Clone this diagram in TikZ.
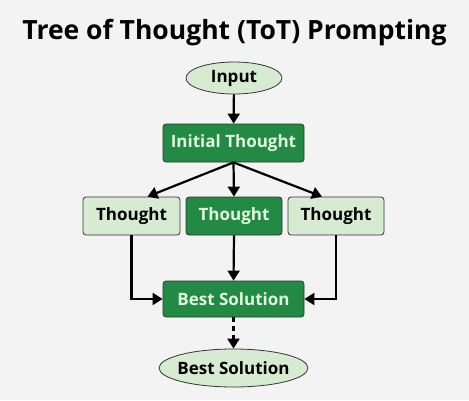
\documentclass[tikz,border=0pt]{standalone}
\usepackage{fontspec}
\setmainfont{Open Sans}
\usetikzlibrary{shapes.geometric,arrows.meta}
\definecolor{bg}{HTML}{F3F3F3}
\definecolor{dkgreen}{HTML}{228A45}
\definecolor{ltgreen}{HTML}{D6EBD2}
\definecolor{lttext}{HTML}{E2F7DC}
\definecolor{edge}{HTML}{2E3A30}
\tikzset{
  nodefont/.style={font=\fontsize{17}{19}\selectfont\bfseries},
  darkbox/.style={draw=edge, line width=0.8pt, fill=dkgreen, rounded corners=3pt, text=lttext, nodefont, inner sep=0pt},
  lightbox/.style={draw=edge, line width=0.8pt, fill=ltgreen, rounded corners=3pt, text=black, nodefont, inner sep=0pt},
  lightell/.style={ellipse, draw=edge, line width=0.8pt, fill=ltgreen, text=black, nodefont, inner sep=0pt, inner xsep=-12pt},
  conn/.style={draw=black, line width=2.2pt, -{Triangle[length=10pt,width=12pt]}},
}
\begin{document}
\begin{tikzpicture}[x=1pt,y=-1pt]
\fill[bg] (0,0) rectangle (469,400);
\useasboundingbox (0,0) rectangle (469,400);
\node[font=\fontsize{26.5}{30}\selectfont\bfseries] (title) at (234.5,33) {Tree of Thought (ToT) Prompting};
\node[lightell, minimum width=96pt, minimum height=32pt] (input) at (234,78) {Input};
\node[darkbox, minimum width=141pt, minimum height=38pt] (init) at (233.5,143) {Initial Thought};
\node[lightbox, minimum width=97pt, minimum height=38pt] (t1) at (131.5,216) {Thought};
\node[darkbox, minimum width=96pt, minimum height=38pt] (t2) at (234,216) {Thought};
\node[lightbox, minimum width=96pt, minimum height=38pt] (t3) at (336,216) {Thought};
\node[darkbox, minimum width=141pt, minimum height=36pt] (best) at (233.5,299) {Best Solution};
\node[lightell, minimum width=149pt, minimum height=38pt] (final) at (233.5,368) {Best Solution};
\draw[conn] (input) -- (init);
\draw[conn] (init.south) -- ([xshift=16pt]t1.north);
\draw[conn] (init.south) -- (t2.north);
\draw[conn] (init.south) -- ([xshift=-14pt]t3.north);
\draw[conn] (t1.south) |- (best.west);
\draw[conn] (t2.south) -- (best.north);
\draw[conn] (t3.south) |- (best.east);
\draw[conn, dash pattern=on 5pt off 4pt] (best.south) -- (final.north);
\end{tikzpicture}
\end{document}
